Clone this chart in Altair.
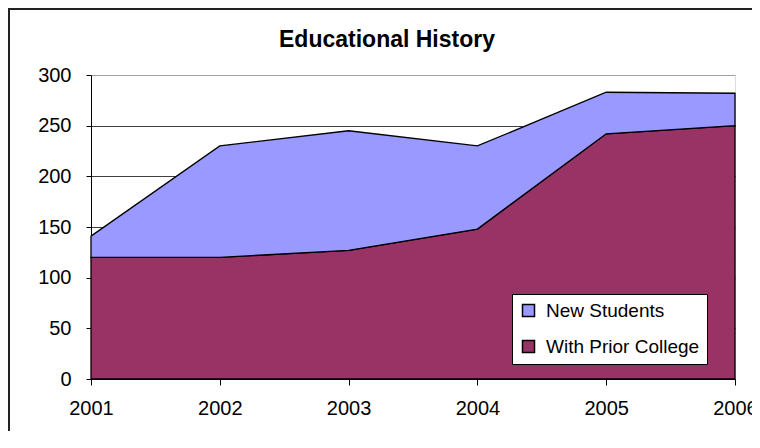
import altair as alt
import pandas as pd

years = [2001, 2002, 2003, 2004, 2005, 2006]
with_prior_college = [120, 120, 127, 148, 242, 250]
new_students = [21, 110, 118, 82, 41, 32]
series_names = ["New Students", "With Prior College"]
series_colors = ["#9999FF", "#993366"]
y_ticks = [0, 50, 100, 150, 200, 250, 300]
chart_title = "Educational History"

rows = []
for i, yr in enumerate(years):
    rows.append({"year": yr, "series": "With Prior College", "value": with_prior_college[i], "stack": 0})
    rows.append({"year": yr, "series": "New Students", "value": new_students[i], "stack": 1})
df = pd.DataFrame(rows)

FONT = "Liberation Sans"

areas = alt.Chart(df).mark_area(
    stroke="black", strokeWidth=1.3, opacity=1, fillOpacity=1
).encode(
    x=alt.X(
        "year:Q",
        scale=alt.Scale(domain=[2001, 2006], nice=False, zero=False),
        axis=alt.Axis(values=years, format="d", title=None, grid=False, tickSize=6,
                      labelPadding=13, labelFontSize=20, labelFont=FONT, labelColor="black",
                      domainColor="black", tickColor="black", labelFlush=False),
    ),
    y=alt.Y(
        "value:Q",
        stack="zero",
        scale=alt.Scale(domain=[0, 300], nice=False),
        axis=alt.Axis(values=y_ticks, title=None, grid=True, tickSize=5, labelPadding=15,
                      labelFontSize=20, labelFont=FONT, labelColor="black",
                      domainColor="black", tickColor="black",
                      gridColor={"condition": {"test": "datum.value >= 300", "value": "#a0a0a0"},
                                 "value": "#404040"}),
    ),
    color=alt.Color(
        "series:N",
        scale=alt.Scale(domain=series_names, range=series_colors),
        legend=alt.Legend(
            title=None, orient="none", legendX=421, legendY=219,
            direction="vertical",
            padding=7, strokeColor="black", fillColor="white",
            symbolType="square", symbolSize=144, symbolStrokeColor="black",
            symbolStrokeWidth=1.5, symbolOpacity=1,
            labelFontSize=19, labelFont=FONT, labelColor="black",
            labelOffset=8, rowPadding=16,
        ),
    ),
    order=alt.Order("stack:Q", sort="ascending"),
)

frame_df = pd.DataFrame({"a": [0]})
outer_frame = alt.Chart(frame_df).mark_rect(
    fill="white", fillOpacity=0, stroke="#222222", strokeWidth=2
).encode(
    x=alt.value(-82), x2=alt.value(720), y=alt.value(-66), y2=alt.value(420)
)
title_text = alt.Chart(frame_df).mark_text(
    text=chart_title, font=FONT, fontSize=23, fontWeight="bold", color="black",
    align="center", baseline="alphabetic"
).encode(x=alt.value(296), y=alt.value(-28))

chart = alt.layer(areas, outer_frame, title_text).properties(
    width=644,
    height=304,
    autosize=alt.AutoSizeParams(type="none"),
    padding={"left": 83, "top": 67, "right": 17, "bottom": 52},
).configure_view(stroke="#999999", strokeWidth=1).configure(background="white")

chart.save("out.html", embed_options={"renderer": "svg", "actions": False})
